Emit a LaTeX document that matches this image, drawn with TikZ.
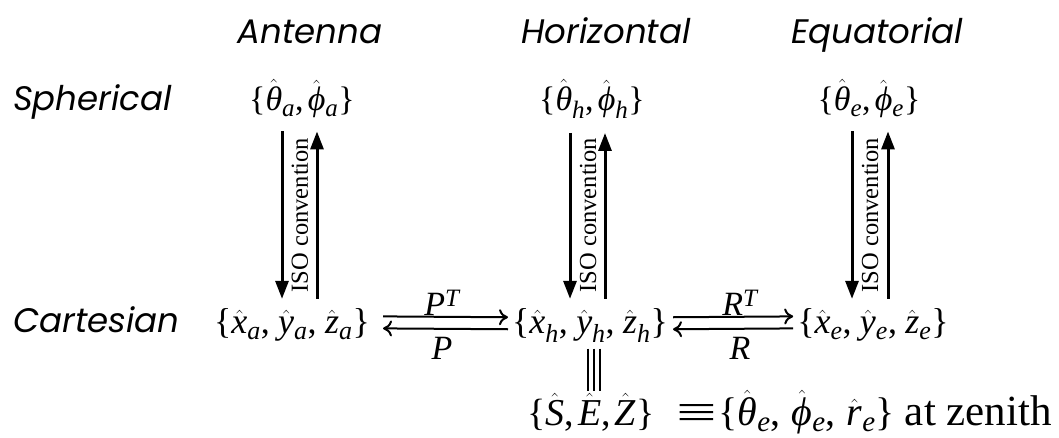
\documentclass[tikz,border=0pt]{standalone}
\usepackage{fontspec}
\setmainfont{Liberation Serif}
\newfontfamily\lsrfam{Liberation Serif}[NFSSFamily=lsr]
\newfontfamily\headfont{Poppins}
\DeclareSymbolFont{lsrit}{TU}{lsr}{m}{it}
\DeclareSymbolFont{lsrup}{TU}{lsr}{m}{n}
\DeclareMathSizes{34}{34}{25}{19}
\DeclareMathSizes{36}{36}{26}{20}
\DeclareMathSizes{38}{38}{28}{21}
\DeclareMathSizes{40}{40}{29}{22}
\newcommand\mkit[1]{\Umathcode`#1=0 \symlsrit `#1\relax}
\AtBeginDocument{%
  \mkit a\mkit e\mkit h\mkit r\mkit x\mkit y\mkit z%
  \mkit S\mkit E\mkit Z\mkit P\mkit R\mkit T%
  \Umathcode`,=6 \symlsrup `,\relax
  \renewcommand\theta{\Umathchar 0 \symlsrit "03B8\relax}%
  \renewcommand\phi{\Umathchar 0 \symlsrit "03D5\relax}%
}
\newcommand\lb{\Umathchar 4 \symlsrup "007B\relax}
\newcommand\rb{\Umathchar 5 \symlsrup "007D\relax}
\newcommand\sbx[1]{_{\raisebox{-3pt}{$\scriptstyle #1$}}}
\usetikzlibrary{arrows.meta,calc}
\begin{document}
\begin{tikzpicture}[x=1pt,y=-1pt,
  head/.style={font=\fontsize{34}{38}\selectfont\headfont\itshape, anchor=base, inner sep=0pt},
  mathn/.style={font=\fontsize{34}{38}\selectfont, anchor=base, inner sep=0pt},
  mathc/.style={font=\fontsize{36}{40}\selectfont, anchor=base, inner sep=0pt},
  mathb/.style={font=\fontsize{38}{42}\selectfont, anchor=base, inner sep=0pt},
  varrow/.style={line width=3pt, -{Triangle[width=13pt,length=18pt]}},
  harrow/.style={line width=2pt, -{To[width=16pt,length=9pt]}},
  iso/.style={font=\fontsize{24.5}{26}\selectfont, rotate=90, inner sep=0pt},
  lab/.style={font=\fontsize{34}{38}\selectfont, inner sep=0pt},
  eqline/.style={line width=2pt}]
\useasboundingbox (0,0) rectangle (1059,437);
% headings
\node[head] (hA) at (310,43) {Antenna};
\node[head] (hH) at (606,43) {Horizontal};
\node[head] (hE) at (877,43) {Equatorial};
\node[head, anchor=base west] (rS) at (13,110) {Spherical};
\node[head, anchor=base west] (rC) at (13,332) {Cartesian};
% spherical
\node[mathn] (sa) at (302,110) {$\lb\hat\theta\sbx{a},\hat\phi\sbx{a}\rb$};
\node[mathn] (sh) at (592,110) {$\lb\hat\theta\sbx{h},\hat\phi\sbx{h}\rb$};
\node[mathn] (se) at (869,110) {$\lb\hat\theta\sbx{e},\hat\phi\sbx{e}\rb$};
% cartesian
\node[mathc] (ca) at (292,333) {$\lb\hat x\sbx{a},\,\hat y\sbx{a},\,\hat z\sbx{a}\rb$};
\node[mathc] (ch) at (590,333) {$\lb\hat x\sbx{h},\,\hat y\sbx{h},\,\hat z\sbx{h}\rb$};
\node[mathc] (ce) at (873,333) {$\lb\hat x\sbx{e},\,\hat y\sbx{e},\,\hat z\sbx{e}\rb$};
% vertical arrows
\draw[varrow] ($(sa.south)+(-20,14)$) -- ($(ca.north)+(-10,-9)$);
\draw[varrow] ($(ca.north)+(25,-9)$) -- ($(sa.south)+(15,14)$);
\node[iso] (ia) at (300,215) {ISO convention};
\draw[varrow] ($(sh.south)+(-22,14)$) -- ($(ch.north)+(-20,-9)$);
\draw[varrow] ($(ch.north)+(15,-9)$) -- ($(sh.south)+(13,14)$);
\node[iso] (ih) at (588,215) {ISO convention};
\draw[varrow] ($(se.south)+(-17,14)$) -- ($(ce.north)+(-21,-9)$);
\draw[varrow] ($(ce.north)+(15,-9)$) -- ($(se.south)+(19,14)$);
\node[iso] (ie) at (870,215) {ISO convention};
% horizontal arrows
\draw[harrow] ($(ca.east)+(13,-8)$) -- ($(ch.west)+(-4,-8)$);
\draw[harrow] ($(ch.west)+(-4,4)$) -- ($(ca.east)+(13,4)$);
\node[lab] (lPT) at (442,303) {$P^T$};
\node[lab] (lP) at (442,348) {$P$};
\draw[harrow] ($(ch.east)+(5,-8)$) -- ($(ce.west)+(-4,-8)$);
\draw[harrow] ($(ce.west)+(-4,4)$) -- ($(ch.east)+(5,4)$);
\node[lab] (lRT) at (740,303) {$R^T$};
\node[lab] (lR) at (740,348) {$R$};
% bottom
\node[mathb, anchor=base west] (sez) at (527,425) {$\lb\hat S,\hat E,\hat Z\rb$};
\node[anchor=base east, inner sep=0pt, font=\fontsize{40}{44}\selectfont] (zen) at (1052,425) {$\lb\hat\theta\sbx{e},\;\hat\phi\sbx{e},\;\hat r\sbx{e}\rb$ {\fontsize{43}{46}\selectfont at zenith}};
\foreach \dx in {-6,0,6}{
  \draw[line width=1.5pt] ($(sez.north |- ch.south)+(\dx+3,6)$) -- ($(sez.north)+(\dx+3,-2)$);
}
\foreach \dy in {-7,0,7}{
  \draw[eqline] ($(sez.east)+(25,\dy)$) -- ($(zen.west)+(-5,\dy)$);
}
\end{tikzpicture}
\end{document}
